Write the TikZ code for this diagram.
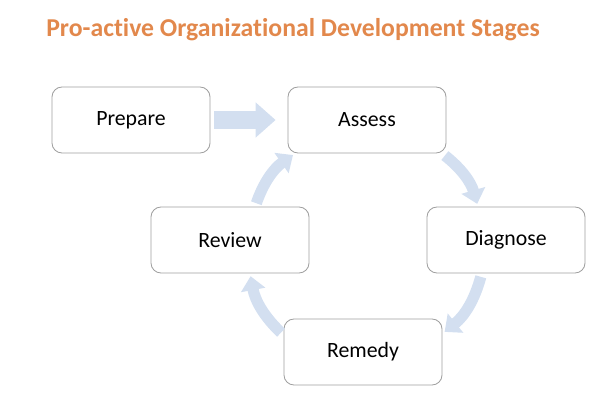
\documentclass[tikz,border=0pt]{standalone}
\usepackage{fontspec}
\setmainfont{Carlito}[Ligatures=NoCommon]
\usetikzlibrary{arrows.meta}

\definecolor{titleorange}{RGB}{226,136,76}
\definecolor{flowblue}{RGB}{211,223,240}

\begin{document}
\begin{tikzpicture}[x=0.025cm, y=0.025cm,
  stage/.style={draw=gray!75, line width=0.6pt, rounded corners=0.25cm,
    minimum width=3.95cm, minimum height=1.65cm,
    font=\fontsize{15.5}{18}\selectfont},
  loopflow/.style={flowblue, line width=0.28cm,
    -{Triangle[width=0.6cm,length=0.35cm]},
    shorten <=2.5pt, shorten >=2pt, bend left=18}]
  \useasboundingbox (0,0) rectangle (600,400);

  % Title
  \node[font=\fontsize{18.3}{23}\selectfont\bfseries, text=titleorange] (title) at (293,370)
    {Pro-active Organizational Development Stages};

  % Stages
  \node[stage] (prepare)  at (131,280) {Prepare};
  \node[stage] (assess)   at (367,280) {Assess};
  \node[stage] (diagnose) at (506,160) {Diagnose};
  \node[stage] (review)   at (230,160) {Review};
  \node[stage] (remedy)   at (363,48)  {Remedy};

  % Entry arrow
  \draw[flowblue, line width=0.45cm, -{Triangle[width=0.85cm,length=0.5cm]},
    shorten <=2.8pt, shorten >=8.5pt] (prepare.east) -- (assess.west);

  % Cycle
  \draw[loopflow] (assess.-24)    to (diagnose.130);
  \draw[loopflow] (diagnose.-126) to (remedy.13);
  \draw[loopflow] (remedy.168)    to (review.-59);
  \draw[loopflow] (review.53)     to (assess.205);
\end{tikzpicture}
\end{document}
